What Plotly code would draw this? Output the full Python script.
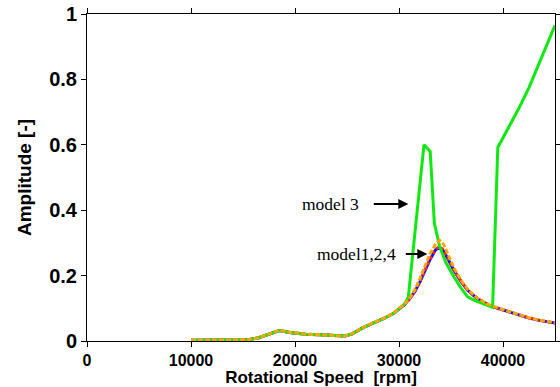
import plotly.graph_objects as go

# Rotational speed [rpm]
speed = [10000, 12000, 14000, 15500, 16500, 17500, 18500, 19500, 21000, 23000,
         24800, 25500, 26500, 27500, 28500, 29500, 30500, 31000, 31500, 32000,
         32500, 33000, 33500, 33900, 34300, 34800, 35300, 36000, 36600, 37500,
         38500, 39500, 40500, 41500, 42500, 43500, 45000]

model1 = [0.002, 0.002, 0.003, 0.004, 0.010, 0.022, 0.032, 0.026, 0.021, 0.018,
          0.015, 0.022, 0.040, 0.055, 0.068, 0.085, 0.110, 0.128, 0.150, 0.180,
          0.215, 0.250, 0.278, 0.287, 0.275, 0.245, 0.215, 0.180, 0.155, 0.130,
          0.112, 0.100, 0.090, 0.080, 0.070, 0.063, 0.055]

model2 = [0.002, 0.002, 0.003, 0.004, 0.010, 0.022, 0.032, 0.026, 0.021, 0.018,
          0.015, 0.022, 0.040, 0.055, 0.068, 0.085, 0.110, 0.128, 0.150, 0.181,
          0.216, 0.252, 0.280, 0.289, 0.277, 0.246, 0.216, 0.181, 0.156, 0.131,
          0.113, 0.100, 0.090, 0.080, 0.071, 0.063, 0.055]

model4 = [0.002, 0.002, 0.003, 0.004, 0.010, 0.022, 0.033, 0.027, 0.021, 0.018,
          0.015, 0.023, 0.041, 0.056, 0.069, 0.086, 0.112, 0.130, 0.155, 0.190,
          0.230, 0.268, 0.295, 0.308, 0.295, 0.260, 0.222, 0.184, 0.158, 0.132,
          0.113, 0.101, 0.091, 0.081, 0.071, 0.064, 0.056]

speed3 = [10000, 12000, 14000, 15500, 16500, 17500, 18500, 19500, 21000, 23000,
          24800, 25500, 26500, 27500, 28500, 29500, 30500, 30900, 32000, 32400,
          33000, 33400, 33900, 34500, 35300, 36000, 36600, 37200, 38000, 39000,
          39500, 40500, 41500, 42500, 43500, 45000]
model3 = [0.002, 0.002, 0.003, 0.004, 0.010, 0.022, 0.032, 0.026, 0.021, 0.018,
          0.015, 0.022, 0.040, 0.055, 0.068, 0.085, 0.112, 0.135, 0.480, 0.600,
          0.580, 0.360, 0.290, 0.240, 0.195, 0.160, 0.135, 0.125, 0.115, 0.103,
          0.592, 0.650, 0.710, 0.775, 0.850, 0.965]

x_ticks = [0, 10000, 20000, 30000, 40000]
x_tick_text = ["0", "10000", "20000", "30000", "40000"]
y_ticks = [0, 0.2, 0.4, 0.6, 0.8, 1]
y_tick_text = ["0", "0.2", "0.4", "0.6", "0.8", "1"]

fig = go.Figure()
fig.add_trace(go.Scatter(x=speed, y=model1, mode="lines", name="model1",
                         line=dict(color="#1010ff", width=3)))
fig.add_trace(go.Scatter(x=speed, y=model2, mode="lines", name="model2",
                         line=dict(color="#ff2020", width=3, dash="dot")))
fig.add_trace(go.Scatter(x=speed3, y=model3, mode="lines", name="model3",
                         line=dict(color="#11e811", width=3)))
fig.add_trace(go.Scatter(x=speed, y=model4, mode="lines", name="model4",
                         line=dict(color="#ffa500", width=3, dash="5px,2px")))

serif = dict(family="Liberation Serif, Times New Roman, serif", size=17.5, color="black")
fig.add_annotation(x=30894, y=0.419, ax=-36, ay=0, xref="x", yref="y",
                   text="", showarrow=True, arrowhead=2, arrowsize=1,
                   arrowwidth=2, arrowcolor="black")
fig.add_annotation(x=26375, y=0.419, xref="x", yref="y", text="model 3",
                   showarrow=False, xanchor="right", yanchor="middle", font=serif)
fig.add_annotation(x=32721, y=0.266, ax=-23, ay=0, xref="x", yref="y",
                   text="", showarrow=True, arrowhead=2, arrowsize=1,
                   arrowwidth=2, arrowcolor="black")
fig.add_annotation(x=29933, y=0.266, xref="x", yref="y", text="model1,2,4",
                   showarrow=False, xanchor="right", yanchor="middle", font=serif)

axis_font = "Liberation Sans, Arial, sans-serif"
fig.update_layout(
    width=560, height=387,
    margin=dict(l=87, r=5, t=14, b=46, autoexpand=False),
    paper_bgcolor="white", plot_bgcolor="white",
    showlegend=False,
    xaxis=dict(range=[0, 45000], tickvals=x_ticks, ticktext=x_tick_text,
               ticks="outside", ticklen=5, automargin=False,
               tickcolor="black", showline=True, linecolor="black", linewidth=1,
               mirror="ticks", showgrid=False, zeroline=False,
               tickfont=dict(family=axis_font, size=16, color="black", weight="bold"),
               title=dict(text="<b>Rotational Speed&nbsp; [rpm]</b>", standoff=0,
                          font=dict(family=axis_font, size=17, color="black"))),
    yaxis=dict(range=[0, 1], tickvals=y_ticks, ticktext=y_tick_text, ticks="outside",
               ticklen=5, tickcolor="black", showline=True, linecolor="black",
               linewidth=1, mirror="ticks", showgrid=False, zeroline=False,
               automargin=False,
               tickfont=dict(family=axis_font, size=20, color="black", weight="bold"),
               title=dict(text="<b>Amplitude [-]</b>", standoff=12,
                          font=dict(family=axis_font, size=19, color="black"))),
)

fig.write_html("out.html", config={"displayModeBar": False},
               post_script="document.body.style.margin='0';")
